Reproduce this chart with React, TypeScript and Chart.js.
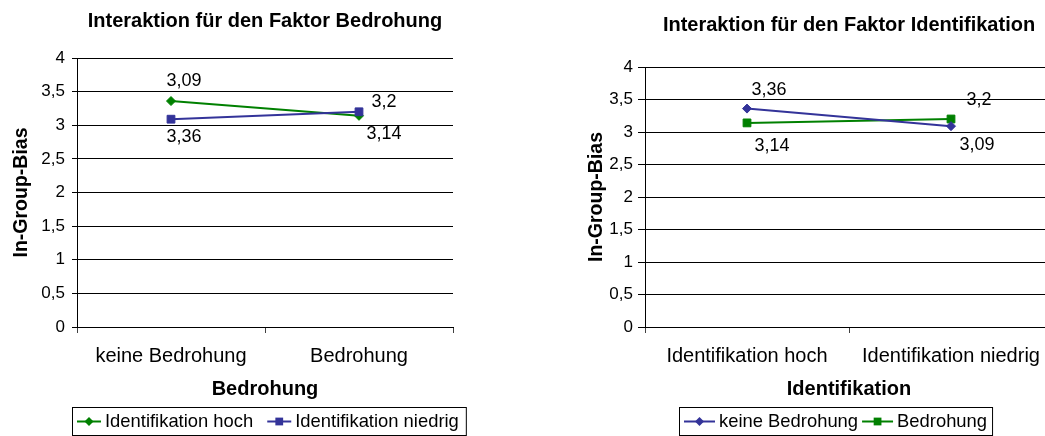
import React, { useEffect, useRef } from "react";
import { Chart, registerables } from "chart.js";

Chart.register(...registerables);

const FONT = "'Liberation Sans', Arial, sans-serif";

// ---------- Data: chart 1 ----------
const C1_TITLE = "Interaktion für den Faktor Bedrohung";
const C1_CATEGORIES = ["keine Bedrohung", "Bedrohung"];
const C1_X_TITLE = "Bedrohung";
const C1_SERIES_NAMES = ["Identifikation hoch", "Identifikation niedrig"];
const C1_IDENT_HOCH = [3.36, 3.14];
const C1_IDENT_NIEDRIG = [3.09, 3.2];

// ---------- Data: chart 2 ----------
const C2_TITLE = "Interaktion für den Faktor Identifikation";
const C2_CATEGORIES = ["Identifikation hoch", "Identifikation niedrig"];
const C2_X_TITLE = "Identifikation";
const C2_SERIES_NAMES = ["keine Bedrohung", "Bedrohung"];
const C2_KEINE_BEDROHUNG = [3.36, 3.09];
const C2_BEDROHUNG = [3.14, 3.2];

// ---------- Shared axis ----------
const Y_TITLE = "In-Group-Bias";
const Y_MIN = 0;
const Y_MAX = 4;
const Y_STEP = 0.5;

const GREEN = "#008000";
const BLUE = "#333399";

const fmt = (v: number) => String(v).replace(".", ",");

type Series = {
  name: string;
  data: number[];
  color: string;
  pointStyle: "rect" | "rectRot";
  radius: number;
  order: number;
  labelOffsets: number[][];
};

type Spec = {
  width: number;
  left: number;
  title: string;
  titlePad: { top: number; bottom: number };
  categories: string[];
  xTitle: string;
  series: Series[];
  padding: { left: number; right: number; top: number; bottom: number };
  yWidth: number;
  yTitlePadTop: number;
  yTickLength: number;
  yTickPad: number;
  legend: { dx: number; padL: number; padR: number; symW: number; gapSym: number; gapItem: number; top: number; height: number };
};

const drawMarker = (ctx: CanvasRenderingContext2D, style: string, x: number, y: number, r: number, color: string) => {
  ctx.save();
  ctx.fillStyle = color;
  ctx.beginPath();
  if (style === "rect") {
    const s = r * Math.SQRT1_2;
    ctx.rect(x - s, y - s, 2 * s, 2 * s);
  } else {
    ctx.moveTo(x, y - r);
    ctx.lineTo(x + r, y);
    ctx.lineTo(x, y + r);
    ctx.lineTo(x - r, y);
    ctx.closePath();
  }
  ctx.fill();
  ctx.restore();
};

const makePlugins = (spec: Spec) => [
  {
    id: "valueLabels",
    afterDatasetsDraw(chart: any) {
      const ctx = chart.ctx as CanvasRenderingContext2D;
      ctx.save();
      ctx.font = `18px ${FONT}`;
      ctx.fillStyle = "#000";
      ctx.textAlign = "center";
      ctx.textBaseline = "middle";
      spec.series.forEach((s, i) => {
        const meta = chart.getDatasetMeta(i);
        meta.data.forEach((el: any, j: number) => {
          const [dx, dy] = s.labelOffsets[j];
          ctx.fillText(fmt(s.data[j]), el.x + dx, el.y + dy);
        });
      });
      ctx.restore();
    },
  },
  {
    id: "boxLegend",
    afterDraw(chart: any) {
      const ctx = chart.ctx as CanvasRenderingContext2D;
      const L = spec.legend;
      ctx.save();
      ctx.font = `18.4px ${FONT}`;
      const widths = spec.series.map((s) => ctx.measureText(s.name).width);
      let total = L.padL + L.padR;
      widths.forEach((w, i) => {
        total += L.symW + L.gapSym + w + (i > 0 ? L.gapItem : 0);
      });
      const area = chart.chartArea;
      const cx = (area.left + area.right) / 2 + L.dx;
      const x0 = Math.round(cx - total / 2);
      ctx.strokeStyle = "#000";
      ctx.lineWidth = 1;
      ctx.strokeRect(x0 + 0.5, L.top + 0.5, total, L.height);
      const cy = L.top + L.height / 2 + 0.5;
      let x = x0 + L.padL;
      spec.series.forEach((s, i) => {
        if (i > 0) x += L.gapItem;
        ctx.strokeStyle = s.color;
        ctx.lineWidth = 2;
        ctx.beginPath();
        ctx.moveTo(x, cy);
        ctx.lineTo(x + L.symW, cy);
        ctx.stroke();
        drawMarker(ctx, s.pointStyle, x + L.symW / 2, cy, s.radius, s.color);
        x += L.symW + L.gapSym;
        ctx.fillStyle = "#000";
        ctx.textAlign = "left";
        ctx.textBaseline = "middle";
        ctx.fillText(s.name, x, cy);
        x += widths[i];
      });
      ctx.restore();
    },
  },
];

const makeConfig = (spec: Spec): any => ({
  type: "line",
  data: {
    labels: spec.categories,
    datasets: spec.series.map((s) => ({
      label: s.name,
      data: s.data,
      borderColor: s.color,
      backgroundColor: s.color,
      borderWidth: 2,
      pointStyle: s.pointStyle,
      pointRadius: s.radius,
      pointBorderWidth: 1,
      pointBackgroundColor: s.color,
      pointBorderColor: s.color,
      tension: 0,
      order: s.order,
      clip: false,
    })),
  },
  options: {
    responsive: false,
    animation: false,
    events: [],
    layout: { padding: spec.padding },
    plugins: {
      legend: { display: false },
      tooltip: { enabled: false },
      title: {
        display: true,
        text: spec.title,
        color: "#000",
        fullSize: false,
        font: { family: FONT, size: 20, weight: "bold", lineHeight: 1.2 },
        padding: spec.titlePad,
      },
    },
    scales: {
      x: {
        type: "category",
        offset: true,
        grid: { display: true, drawOnChartArea: false, drawTicks: true, tickLength: 6, offset: true, color: "#404040", lineWidth: 1 },
        border: { display: true, color: "#000", width: 1 },
        ticks: { color: "#000", font: { family: FONT, size: 20 }, padding: 11, maxRotation: 0, autoSkip: false },
        title: { display: true, text: spec.xTitle, color: "#000", font: { family: FONT, size: 20, weight: "bold", lineHeight: 1.2 }, padding: { top: 0, bottom: 0 } },
        afterFit: (scale: any) => {
          scale.height = 74;
        },
      },
      y: {
        min: Y_MIN,
        max: Y_MAX,
        grid: { display: true, drawOnChartArea: true, drawTicks: true, tickLength: spec.yTickLength, color: "#000", lineWidth: 1 },
        border: { display: true, color: "#000", width: 1 },
        ticks: {
          stepSize: Y_STEP,
          color: "#000",
          font: { family: FONT, size: 17 },
          padding: spec.yTickPad,
          callback: (v: number) => fmt(v),
        },
        title: {
          display: true,
          text: Y_TITLE,
          color: "#000",
          font: { family: FONT, size: 19.5, weight: "bold", lineHeight: 1.2 },
          padding: { top: spec.yTitlePadTop, bottom: 0 },
        },
        afterFit: (scale: any) => {
          scale.width = spec.yWidth;
        },
      },
    },
  },
  plugins: makePlugins(spec),
});

const SPEC1: Spec = {
  width: 520,
  left: 0,
  title: C1_TITLE,
  titlePad: { top: 9, bottom: 25 },
  categories: C1_CATEGORIES,
  xTitle: C1_X_TITLE,
  series: [
    { name: C1_SERIES_NAMES[0], data: C1_IDENT_HOCH, color: GREEN, pointStyle: "rectRot", radius: 4.5, order: 1, labelOffsets: [[13, 35.5], [25, 18]] },
    { name: C1_SERIES_NAMES[1], data: C1_IDENT_NIEDRIG, color: BLUE, pointStyle: "rect", radius: 5.5, order: 0, labelOffsets: [[13, -38], [25, -10]] },
  ],
  padding: { left: 0, right: 67, top: 0, bottom: 35 },
  yWidth: 77,
  yTitlePadTop: 10,
  yTickLength: 5,
  yTickPad: 7,
  legend: { dx: 3.5, padL: 5, padR: 7, symW: 24, gapSym: 4, gapItem: 14, top: 407, height: 28 },
};

const SPEC2: Spec = {
  width: 560,
  left: 520,
  title: C2_TITLE,
  titlePad: { top: 13, bottom: 30 },
  categories: C2_CATEGORIES,
  xTitle: C2_X_TITLE,
  series: [
    { name: C2_SERIES_NAMES[0], data: C2_KEINE_BEDROHUNG, color: BLUE, pointStyle: "rectRot", radius: 4.5, order: 0, labelOffsets: [[22, -18.6], [26, 19]] },
    { name: C2_SERIES_NAMES[1], data: C2_BEDROHUNG, color: GREEN, pointStyle: "rect", radius: 5.5, order: 1, labelOffsets: [[25, 23], [28, -18.5]] },
  ],
  padding: { left: 55, right: 27, top: 0, bottom: 35 },
  yWidth: 70,
  yTitlePadTop: 10,
  yTickLength: 7,
  yTickPad: 5,
  legend: { dx: -13.5, padL: 5, padR: 5, symW: 31, gapSym: 4, gapItem: 4, top: 407, height: 28 },
};

function ChartPanel({ spec }: { spec: Spec }) {
  const ref = useRef<HTMLCanvasElement | null>(null);
  useEffect(() => {
    if (!ref.current) return;
    const chart = new Chart(ref.current, makeConfig(spec));
    return () => chart.destroy();
  }, [spec]);
  return (
    <canvas
      ref={ref}
      width={spec.width}
      height={436}
      style={{ position: "absolute", left: spec.left, top: 0, width: spec.width + "px", height: "436px" }}
    />
  );
}

export default function App() {
  return (
    <div style={{ position: "fixed", left: 0, top: 0, width: 1045, height: 436, overflow: "hidden", background: "#fff" }}>
      <ChartPanel spec={SPEC1} />
      <ChartPanel spec={SPEC2} />
    </div>
  );
}
